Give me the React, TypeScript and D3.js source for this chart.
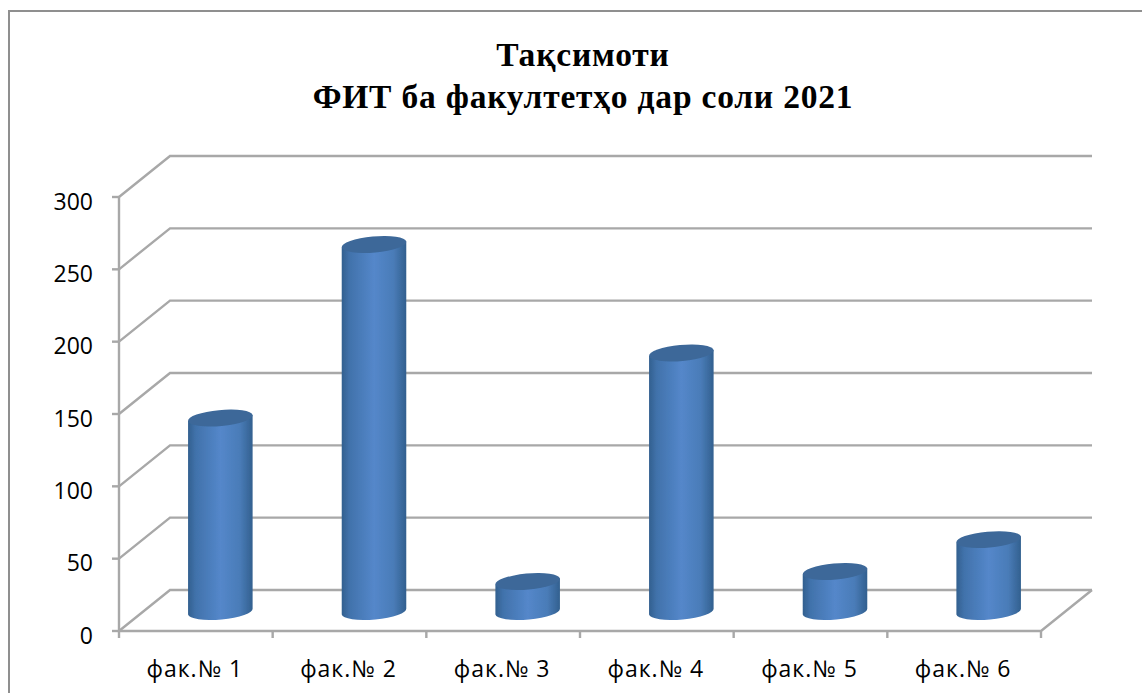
import React from "react";
import * as d3 from "d3";

const categories = ["фак.№ 1", "фак.№ 2", "фак.№ 3", "фак.№ 4", "фак.№ 5", "фак.№ 6"];
const values = [133, 253, 20, 178, 27, 49];
const yTicks = [0, 50, 100, 150, 200, 250, 300];
const titleLines = ["Тақсимоти", "ФИТ ба факултетҳо дар соли 2021"];

const width = 1142;
const height = 693;
const left = 119;
const right = 1041;
const bottom = 631;
const top = 197;
const depthX = 51;
const depthY = 41;
const lineColor = "#a8a8a8";

const App = () => {
  const xScale = d3.scaleBand<string>().domain(categories).range([left, right]);
  const yScale = d3.scaleLinear().domain([0, 300]).range([bottom, top]);

  // bars stand in the middle of the floor depth
  const barWidth = xScale.bandwidth() * 0.42;
  const rx = barWidth / 2;
  const ry = 8;
  const tilt = 3;

  const cylinder = (name: string, value: number) => {
    const cx = xScale(name)! + xScale.bandwidth() / 2 + depthX / 2 - 1;
    const cyTop = yScale(value) - depthY / 2;
    const cyBase = yScale(0) - depthY / 2 + 1;
    const arc = `A${rx} ${ry} -5 0 `;
    const body = `M${cx - rx} ${cyTop + tilt}L${cx + rx} ${cyTop - tilt}L${cx + rx} ${cyBase - tilt}${arc}1 ${cx - rx} ${cyBase + tilt}Z`;
    const cap = `M${cx - rx} ${cyTop + tilt}${arc}1 ${cx + rx} ${cyTop - tilt}${arc}1 ${cx - rx} ${cyTop + tilt}Z`;
    return { body, cap };
  };

  return (
    <svg
      width={width}
      height={height}
      style={{ position: "absolute", left: 0, top: 0, background: "#fff" }}
    >
      <defs>
        <linearGradient id="barFill" x1="0" x2="1" y1="0" y2="0">
          <stop offset="0" stopColor="#32608f" />
          <stop offset="0.12" stopColor="#4172ab" />
          <stop offset="0.5" stopColor="#5487ca" />
          <stop offset="0.8" stopColor="#4a7cb8" />
          <stop offset="1" stopColor="#32608f" />
        </linearGradient>
        <filter id="soft" x="-5%" y="-5%" width="110%" height="110%">
          <feGaussianBlur stdDeviation="0.5" />
        </filter>
      </defs>

      <path d={`M9 ${height}V11H${width}`} fill="none" stroke="#8f8f8f" strokeWidth={2} />

      <g filter="url(#soft)" fill="none" stroke={lineColor} strokeWidth={2.4}>
        {yTicks.map((t) => (
          <path
            key={t}
            d={`M${left} ${yScale(t)}L${left + depthX} ${yScale(t) - depthY}H${right + depthX}`}
          />
        ))}
        <path d={`M${left} ${top}V${bottom}H${right}L${right + depthX} ${bottom - depthY}`} />
        {yTicks.map((t) => (
          <line key={t} x1={left - 7} x2={left} y1={yScale(t)} y2={yScale(t)} />
        ))}
        {categories.map((c) => (
          <line key={c} x1={xScale(c)!} x2={xScale(c)!} y1={bottom} y2={bottom + 7} />
        ))}
        <line x1={right} x2={right} y1={bottom} y2={bottom + 7} />
      </g>

      <g filter="url(#soft)">
        {categories.map((c, i) => {
          const { body, cap } = cylinder(c, values[i]);
          return (
            <g key={c}>
              <path d={body} fill="url(#barFill)" />
              <path d={cap} fill="#3c6899" />
            </g>
          );
        })}
      </g>

      <g fontFamily="'Open Sans', sans-serif" fill="#000">
        {yTicks.map((t) => (
          <text key={t} x={93} y={yScale(t) + 12.5} textAnchor="end" fontSize={23}>
            {t}
          </text>
        ))}
        {categories.map((c) => (
          <text
            key={c}
            x={xScale(c)! + xScale.bandwidth() / 2 - 1}
            y={677}
            textAnchor="middle"
            fontSize={23}
            letterSpacing={1}
          >
            {c}
          </text>
        ))}
      </g>

      <g
        fontFamily="'Liberation Serif', serif"
        fontWeight="bold"
        fontSize={33.5}
        letterSpacing={0.8}
        textAnchor="middle"
        fill="#000"
      >
        {titleLines.map((line, i) => (
          <text key={line} x={583} y={66 + i * 42}>
            {line}
          </text>
        ))}
      </g>
    </svg>
  );
};

export default App;
